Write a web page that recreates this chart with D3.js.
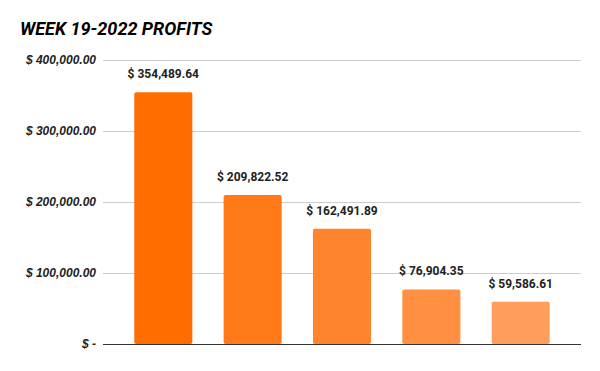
<!DOCTYPE html>
<html>
<head>
<meta charset="utf-8">
<script src="https://cdn.jsdelivr.net/npm/d3@7"></script>
<style>
  body { margin: 0; background: #fff; }
  svg { display: block; font-family: Roboto, sans-serif; }
</style>
</head>
<body>
<div id="chart"></div>
<script>
const title = 'WEEK 19-2022 PROFITS'
const categories = ['A', 'B', 'C', 'D', 'E']
const profits = [354489.64, 209822.52, 162491.89, 76904.35, 59586.61]
const barColors = ['#ff6d00', '#ff7918', '#ff842d', '#ff9042', '#ff9d5c']
const yTicks = [0, 100000, 200000, 300000, 400000]

const width = 600, height = 371
const margin = { top: 60, right: 19, bottom: 27, left: 103 }

const svg = d3.select('#chart').append('svg')
    .attr('width', width)
    .attr('height', height)

const x = d3.scaleBand()
    .domain(categories)
    .range([margin.left, width - margin.right])
    .paddingInner(0.35)
    .paddingOuter(0.35)

const y = d3.scaleLinear()
    .domain([0, 400000])
    .range([height - margin.bottom, margin.top])

const money = d3.format(',.2f')
const tickText = v => v === 0 ? '$ -' : '$ ' + money(v)

// gridlines + y labels
const yAxis = d3.axisLeft(y)
    .tickValues(yTicks)
    .tickSize(-(width - margin.left - margin.right))
    .tickPadding(7)
    .tickFormat(tickText)

const gy = svg.append('g')
    .attr('transform', `translate(${margin.left},0)`)
    .call(yAxis)
gy.select('.domain').remove()
gy.selectAll('.tick line')
    .attr('stroke', d => d === 0 ? '#333' : '#ccc')
    .attr('stroke-width', 1)
gy.selectAll('.tick text')
    .attr('fill', '#222')
    .style('font-size', '12px')
    .style('font-weight', 'bold')
    .style('font-style', 'italic')

// bars
svg.append('g')
    .selectAll('rect')
    .data(profits)
    .enter()
    .append('rect')
    .attr('x', (d, i) => x(categories[i]))
    .attr('y', d => y(d))
    .attr('width', x.bandwidth())
    .attr('height', d => y(0) - y(d))
    .attr('rx', 2)
    .attr('fill', (d, i) => barColors[i])

// baseline on top of bars
svg.append('line')
    .attr('x1', margin.left)
    .attr('x2', width - margin.right)
    .attr('y1', y(0) + 0.5)
    .attr('y2', y(0) + 0.5)
    .attr('stroke', '#333')

// value labels
svg.append('g')
    .selectAll('text')
    .data(profits)
    .enter()
    .append('text')
    .attr('x', (d, i) => x(categories[i]) + x.bandwidth() / 2)
    .attr('y', d => y(d) - 14)
    .attr('text-anchor', 'middle')
    .attr('fill', '#222')
    .style('font-size', '12px')
    .style('font-weight', 'bold')
    .text(d => '$ ' + money(d))

svg.append('text')
    .attr('x', 20)
    .attr('y', 35)
    .attr('fill', '#000')
    .style('font-size', '18px')
    .style('font-weight', 'bold')
    .style('font-style', 'italic')
    .text(title)
</script>
</body>
</html>
